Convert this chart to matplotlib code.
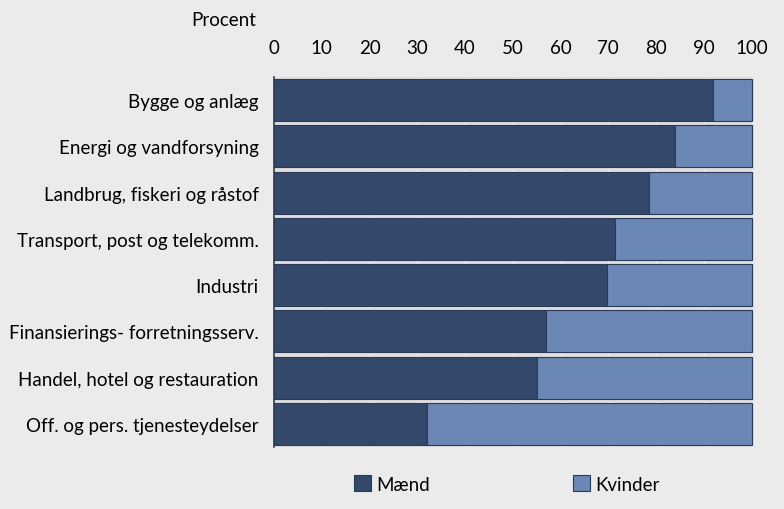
import matplotlib.pyplot as plt
import matplotlib.font_manager as fm

# Data
categories = ['Bygge og anlæg', 'Energi og vandforsyning', 'Landbrug, fiskeri og råstof',
              'Transport, post og telekomm.', 'Industri', 'Finansierings- forretningsserv.',
              'Handel, hotel og restauration', 'Off. og pers. tjenesteydelser']
maend = [92, 84, 78.5, 71.4, 69.8, 57.0, 55.1, 32.0]
kvinder = [100 - m for m in maend]
ticks = [0, 10, 20, 30, 40, 50, 60, 70, 80, 90, 100]

names = {f.name for f in fm.fontManager.ttflist}
fam = 'Liberation Sans Narrow' if 'Liberation Sans Narrow' in names else 'Lato'
plt.rcParams['font.family'] = [fam, 'DejaVu Sans']
fs = 13.5

bg = '#ebebeb'
dark = '#34486b'
light = '#6b87b5'

fig = plt.figure(figsize=(7.84, 5.10), dpi=100, facecolor=bg)
ax = fig.add_axes([274 / 784, 1 - 448 / 510, (754 - 274) / 784, (448 - 78) / 510])
ax.set_facecolor('#dedede')

y = list(range(len(categories)))
ax.barh(y, maend, height=0.91, color=dark, edgecolor='#2b3a57', linewidth=0.8, label='Mænd', zorder=3)
ax.barh(y, kvinder, left=maend, height=0.91, color=light, edgecolor='#2b3a57', linewidth=0.8,
        label='Kvinder', zorder=3)

ax.set_xlim(0, 100.5)
ax.set_ylim(len(categories) - 0.5, -0.5)
ax.set_yticks(y)
ax.set_yticklabels(categories, fontsize=fs)
ax.set_xticks(ticks)
ax.xaxis.tick_top()
ax.set_xticklabels([str(t) for t in ticks], fontsize=fs)
ax.tick_params(axis='x', length=0, pad=15)
ax.tick_params(axis='y', length=0, pad=11)
ax.grid(axis='x', color='white', linestyle=':', linewidth=1, zorder=1)
for s in ['top', 'right', 'bottom']:
    ax.spines[s].set_visible(False)
ax.spines['left'].set_color('#2b3a57')
ax.spines['left'].set_linewidth(1.2)

fig.text(256 / 784, 1 - 21 / 510, 'Procent', ha='right', va='center', fontsize=fs)

handles, labels = ax.get_legend_handles_labels()
fig.legend(handles, labels, loc='center', bbox_to_anchor=(507 / 784, 1 - 485 / 510), ncol=2,
           frameon=False, fontsize=fs, handlelength=0.9, handleheight=0.9,
           handletextpad=0.3, columnspacing=7.6)

fig.savefig('out.png', dpi=100, facecolor=bg)
